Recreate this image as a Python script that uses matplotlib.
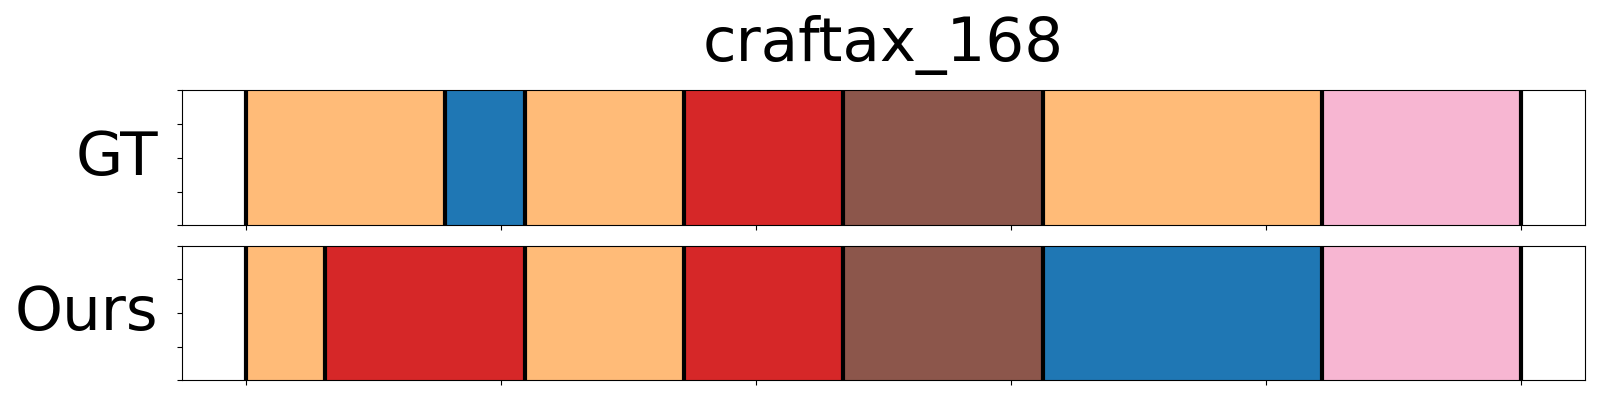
import matplotlib
matplotlib.use("Agg")
import matplotlib.pyplot as plt
import numpy as np

title = "craftax_168"
row_names = ["GT", "Ours"]

# segment boundaries (percent of episode) and segment classes
gt_bounds = [0, 15.625, 21.875, 34.375, 46.875, 62.5, 84.375, 100]
gt_labels = [3, 0, 3, 6, 10, 3, 13]
ours_bounds = [0, 6.25, 21.875, 34.375, 46.875, 62.5, 84.375, 100]
ours_labels = [3, 6, 3, 6, 10, 0, 13]

cmap = plt.get_cmap("tab20")

fig, axes = plt.subplots(2, 1, figsize=(16, 4), dpi=100)
fig.subplots_adjust(left=0.1136, right=0.9906, top=0.774, bottom=0.049, hspace=0.151)

for ax, name, bounds, labels in zip(axes, row_names,
                                    [gt_bounds, ours_bounds],
                                    [gt_labels, ours_labels]):
    for i, lab in enumerate(labels):
        ax.axvspan(bounds[i], bounds[i + 1], color=cmap(lab))
    for b in bounds:
        ax.axvline(b, color="black", linewidth=3)
    ax.set_ylim(0, 1)
    ax.set_yticks(np.linspace(0, 1, 5))
    ax.tick_params(labelbottom=False, labelleft=False)
    ax.set_ylabel(name, rotation=0, ha="right", va="baseline", fontsize=44)
    ax.yaxis.set_label_coords(-0.0167, 0.372)

axes[0].set_title(title, fontsize=44, pad=21)

fig.savefig("out.png")
